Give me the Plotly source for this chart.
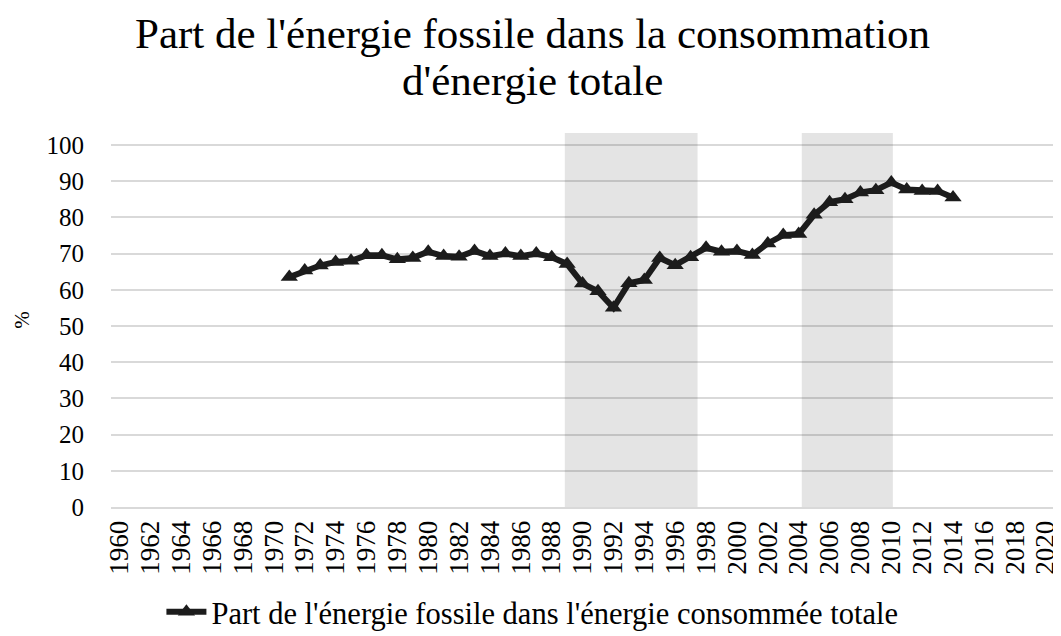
import plotly.graph_objects as go

years = list(range(1971, 2015))
fossil_share = [63.5, 65.3, 66.7, 67.7, 68.0, 69.5, 69.5, 68.4, 68.8, 70.5,
                69.3, 69.1, 70.7, 69.3, 70.0, 69.3, 70.0, 69.0, 67.1, 61.7,
                59.6, 55.0, 61.8, 62.7, 68.8, 66.8, 69.0, 71.6, 70.5, 70.7,
                69.6, 72.8, 75.1, 75.4, 80.7, 84.2, 85.0, 86.9, 87.5, 89.6,
                87.7, 87.3, 87.3, 85.5]

bands = [(1988.85, 1997.45), (2004.2, 2010.1)]
band_top = 103.3

title_lines = ["Part de l'énergie fossile dans la consommation", "d'énergie totale"]
series_name = "Part de l'énergie fossile dans l'énergie consommée totale"
y_title = "%"
tick_years = list(range(1960, 2021, 2))
y_ticks = list(range(0, 101, 10))

FONT = "Liberation Serif"
# page has an 8px body margin: figure pixel = page pixel - 8
PLOT_TOP, PLOT_BOTTOM = 133, 507   # page pixels
PLOT_H = PLOT_BOTTOM - PLOT_TOP

fig = go.Figure()
fig.add_trace(go.Scatter(
    x=years, y=fossil_share, mode="lines+markers", name=series_name,
    line=dict(color="#1c1c1c", width=6),
    marker=dict(symbol="triangle-up", size=15, color="#1c1c1c"),
))

for x0, x1 in bands:
    fig.add_shape(type="rect", xref="x", yref="y", x0=x0, x1=x1, y0=0, y1=band_top,
                  fillcolor="#e4e4e4", line=dict(width=0), layer="below")

for line, ypix in zip(title_lines, [33, 80]):
    fig.add_annotation(text=line, xref="paper", yref="paper", x=0.4446,
                       y=(PLOT_BOTTOM - ypix) / PLOT_H,
                       xanchor="center", yanchor="middle", showarrow=False,
                       font=dict(family=FONT, size=43, color="#000000"))

fig.update_layout(
    width=1053, height=628,
    margin=dict(l=103, r=3, t=125, b=129, autoexpand=False),
    paper_bgcolor="white", plot_bgcolor="white",
    font=dict(family=FONT, color="#000000"),
    showlegend=True,
    legend=dict(orientation="h", x=0.445, xanchor="center",
                y=(PLOT_BOTTOM - 612) / PLOT_H, yanchor="middle",
                font=dict(family=FONT, size=30.5, color="#000000"), itemwidth=40),
    xaxis=dict(range=[1959.45, 2020.8], tickmode="array", tickvals=tick_years,
               ticktext=[str(t) for t in tick_years], tickangle=-90,
               tickfont=dict(family=FONT, size=27, color="#000000"),
               ticklabeloverflow="allow",
               showgrid=False, zeroline=False, showline=True, automargin=False,
               linecolor="#d9d9d9", linewidth=2, ticks="outside", ticklen=1,
               tickcolor="rgba(0,0,0,0)", fixedrange=True),
    yaxis=dict(range=[0, band_top], tickmode="array", tickvals=y_ticks,
               tickfont=dict(family=FONT, size=25, color="#000000"),
               showgrid=True, gridcolor="rgba(0,0,0,0.15)", gridwidth=2, automargin=False,
               zeroline=False, showline=False, ticks="outside", ticklen=21,
               tickcolor="rgba(0,0,0,0)",
               title=dict(text=y_title, font=dict(family=FONT, size=21), standoff=11)),
)

fig.write_html("out.html")
